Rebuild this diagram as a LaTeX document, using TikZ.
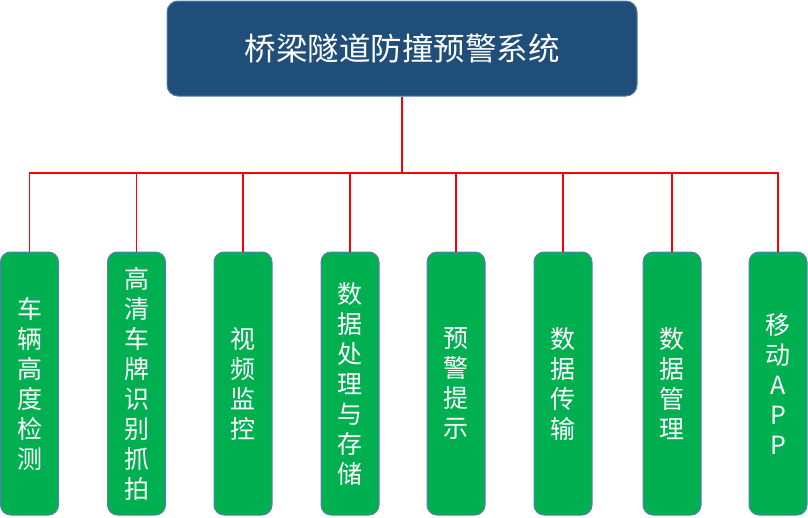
\documentclass[tikz,border=0pt]{standalone}
\usepackage{fontspec}
\setmainfont{Noto Sans CJK SC}
\definecolor{topfill}{HTML}{1F4E79}
\definecolor{topedge}{HTML}{5A7FA8}
\definecolor{grn}{HTML}{00B050}
\definecolor{grnedge}{HTML}{5B7DB5}
\definecolor{lnred}{HTML}{FF0000}
\tikzset{
  topbox/.style={draw=topedge, line width=1pt, fill=topfill, rounded corners=11pt,
    minimum width=470pt, minimum height=95pt, inner sep=0pt, text=white,
    font=\fontsize{31.5}{36}\selectfont},
  leafbox/.style={draw=grnedge, line width=1pt, fill=grn, rounded corners=10pt,
    minimum width=58pt, minimum height=263pt, inner sep=0pt, text=white,
    align=center, font=\fontsize{25}{30}\selectfont},
  conn/.style={draw=lnred, line width=1.6pt}
}
\begin{document}
\begin{tikzpicture}[x=1pt,y=-1pt]
\useasboundingbox (0,0) rectangle (808,517);
\node[topbox] (top) at (402,48.5) {桥梁隧道防撞预警系统};
\coordinate (hub) at (402,173);
\node[leafbox] (b1) at (29.5,383.5) {车\\辆\\高\\度\\检\\测};
\node[leafbox] (b2) at (136.5,383.5) {高\\清\\车\\牌\\识\\别\\抓\\拍};
\node[leafbox] (b3) at (243,383.5) {视\\频\\监\\控};
\node[leafbox] (b4) at (350,383.5) {数\\据\\处\\理\\与\\存\\储};
\node[leafbox] (b5) at (456,383.5) {预\\警\\提\\示};
\node[leafbox] (b6) at (563,383.5) {数\\据\\传\\输};
\node[leafbox] (b7) at (672,383.5) {数\\据\\管\\理};
\node[leafbox] (b8) at (778,383.5) {移\\动\\A\\P\\P};
\draw[conn] (top.south) -- (hub);
\foreach \b in {b1,b2,b3,b4,b5,b6,b7,b8}{
  \draw[conn] (hub) -| (\b.north);
}
\end{tikzpicture}
\end{document}
